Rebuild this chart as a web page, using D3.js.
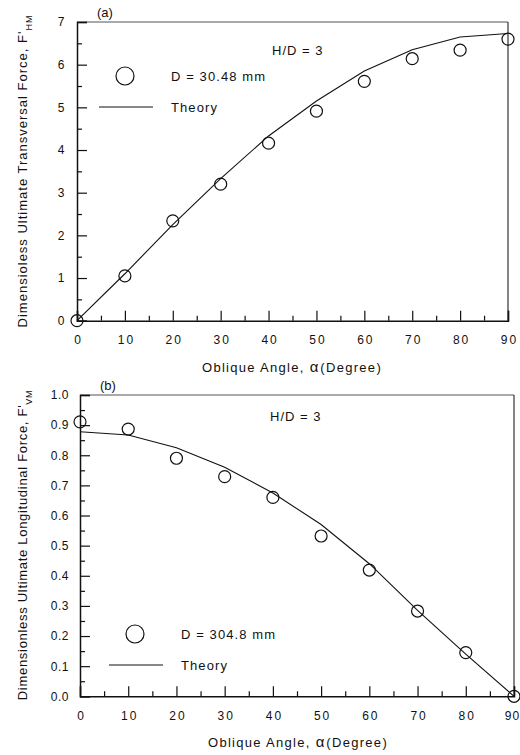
<!DOCTYPE html>
<html>
<head>
<meta charset="utf-8">
<script src="https://cdn.jsdelivr.net/npm/d3@7"></script>
<style>
  body { margin: 0; background: #fff; }
  svg { display: block; font-family: "Liberation Sans", Arial, sans-serif; }
  text { fill: #111; }
</style>
</head>
<body>
<svg id="chart" width="520" height="755"></svg>
<script>
const angles = [0, 10, 20, 30, 40, 50, 60, 70, 80, 90];

// panel (a) transversal force
const measA = [0, 1.05, 2.34, 3.2, 4.16, 4.91, 5.61, 6.14, 6.34, 6.6];
const theoryA = [0, 1.1, 2.25, 3.33, 4.33, 5.15, 5.85, 6.35, 6.65, 6.73];

// panel (b) longitudinal force
const measB = [0.911, 0.887, 0.79, 0.729, 0.66, 0.532, 0.419, 0.283, 0.145, 0];
const theoryB = [0.878, 0.867, 0.825, 0.76, 0.675, 0.57, 0.44, 0.285, 0.14, 0];

const xTicks = [0, 10, 20, 30, 40, 50, 60, 70, 80, 90];
const xMinor = [5, 15, 25, 35, 45, 55, 65, 75, 85];
const yTicksA = [0, 1, 2, 3, 4, 5, 6, 7];
const yMinorA = [0.5, 1.5, 2.5, 3.5, 4.5, 5.5, 6.5];
const yTicksB = [0, 0.1, 0.2, 0.3, 0.4, 0.5, 0.6, 0.7, 0.8, 0.9, 1.0];
const yMinorB = [0.05, 0.15, 0.25, 0.35, 0.45, 0.55, 0.65, 0.75, 0.85, 0.95];

const svg = d3.select("#chart");

function panel(o) {
  const x = d3.scaleLinear().domain([0, 90]).range([o.left, o.right]);
  const y = d3.scaleLinear().domain(o.yDomain).range([o.bottom, o.top]);
  const g = svg.append("g");

  // frame top / right
  g.append("line").attr("x1", o.left).attr("x2", o.right).attr("y1", o.top).attr("y2", o.top)
    .attr("stroke", "#555").attr("stroke-width", 1.2);
  g.append("line").attr("x1", o.right).attr("x2", o.right).attr("y1", o.top).attr("y2", o.bottom)
    .attr("stroke", "#333").attr("stroke-width", 1.2);

  const xa = g.append("g").attr("transform", `translate(0,${o.bottom})`)
    .call(d3.axisBottom(x).tickValues(xTicks).tickSize(-10).tickPadding(15).tickFormat(d3.format("d")));
  g.append("g").attr("transform", `translate(0,${o.bottom})`)
    .call(d3.axisBottom(x).tickValues(xMinor).tickSize(-5).tickFormat(""))
    .select(".domain").remove();
  const ya = g.append("g").attr("transform", `translate(${o.left},0)`)
    .call(d3.axisLeft(y).tickValues(o.yTicks).tickSize(-10).tickPadding(o.yPad).tickFormat(o.yFmt));
  g.append("g").attr("transform", `translate(${o.left},0)`)
    .call(d3.axisLeft(y).tickValues(o.yMinor).tickSize(-5).tickFormat(""))
    .select(".domain").remove();

  g.selectAll(".domain").attr("stroke", "#111").attr("stroke-width", 1.5);
  g.selectAll(".tick line").attr("stroke", "#111").attr("stroke-width", 1.2);
  g.selectAll(".tick text").attr("font-size", 12).attr("font-family", "Liberation Sans, Arial, sans-serif")
    .attr("fill", "#111");
  xa.selectAll(".tick text").style("letter-spacing", "2px").attr("dx", 1);
  // last label sits at the page edge
  xa.selectAll(".tick text").filter(d => d === 90 && o.right > 510)
    .style("letter-spacing", "1px").attr("dx", -2);
  ya.selectAll(".tick text").style("letter-spacing", "0.5px");

  // theory line
  const line = d3.line().x((d, i) => x(angles[i])).y(d => y(d));
  g.append("path").datum(o.theory).attr("d", line)
    .attr("fill", "none").attr("stroke", "#111").attr("stroke-width", 1.1);

  // measured points
  g.selectAll("circle.pt").data(o.meas).join("circle").attr("class", "pt")
    .attr("cx", (d, i) => x(angles[i])).attr("cy", d => y(d)).attr("r", 6)
    .attr("fill", "none").attr("stroke", "#111").attr("stroke-width", 1.2);

  // panel label
  g.append("text").attr("x", o.left + 20).attr("y", o.top - 5).attr("font-size", 13)
    .text(o.label);

  // x title
  const xt = g.append("text").attr("x", o.xTitleX).attr("y", o.bottom + 51)
    .attr("text-anchor", "middle").attr("font-size", 13).style("letter-spacing", "1.3px");
  xt.append("tspan").text("Oblique Angle, ");
  xt.append("tspan").attr("font-size", 15).style("letter-spacing", "0px").text("\u03b1");
  xt.append("tspan").attr("dx", 2).text("(Degree)");

  // y title
  const yt = g.append("text")
    .attr("transform", `translate(${o.titleX},${o.titleY}) rotate(-90)`)
    .attr("text-anchor", "middle").attr("font-size", 13).style("letter-spacing", o.titleLs);
  yt.append("tspan").text(o.yTitle);
  yt.append("tspan").attr("font-size", 9).attr("baseline-shift", "sub").text(o.sub);

  // H/D note
  g.append("text").attr("x", o.hdX).attr("y", o.hdY).attr("font-size", 13)
    .style("letter-spacing", "1px").text("H/D = 3");

  // legend
  g.append("circle").attr("cx", o.legX).attr("cy", o.legY).attr("r", 9)
    .attr("fill", "none").attr("stroke", "#111").attr("stroke-width", 1.2);
  g.append("text").attr("x", o.legX + 46).attr("y", o.legY + 5).attr("font-size", 13)
    .style("letter-spacing", "1.1px").text(o.dText);
  g.append("line").attr("x1", o.legX - 26).attr("x2", o.legX + 28)
    .attr("y1", o.legY + 31).attr("y2", o.legY + 31).attr("stroke", "#111").attr("stroke-width", 1);
  g.append("text").attr("x", o.legX + 46).attr("y", o.legY + 36).attr("font-size", 13)
    .style("letter-spacing", "1.1px").text("Theory");
}

panel({
  left: 77, right: 508, top: 22, bottom: 320.7,
  yDomain: [0, 7], yTicks: yTicksA, yMinor: yMinorA, yPad: 12, yFmt: d3.format("d"),
  meas: measA, theory: theoryA, label: "(a)",
  yTitle: "Dimensioless Ultimate Transversal Force, F'", sub: "HM",
  titleX: 27, titleY: 171, titleLs: "1px", xTitleX: 292,
  hdX: 272, hdY: 55, legX: 125, legY: 76, dText: "D = 30.48 mm"
});

panel({
  left: 80, right: 514, top: 395, bottom: 696.3,
  yDomain: [0, 1], yTicks: yTicksB, yMinor: yMinorB, yPad: 11, yFmt: d3.format(".1f"),
  meas: measB, theory: theoryB, label: "(b)",
  yTitle: "Dimensionless Ultimate Longitudinal Force, F'", sub: "VM",
  titleX: 27, titleY: 545, titleLs: "0.7px", xTitleX: 298,
  hdX: 270, hdY: 421, legX: 135, legY: 634, dText: "D = 304.8 mm"
});
</script>
</body>
</html>
